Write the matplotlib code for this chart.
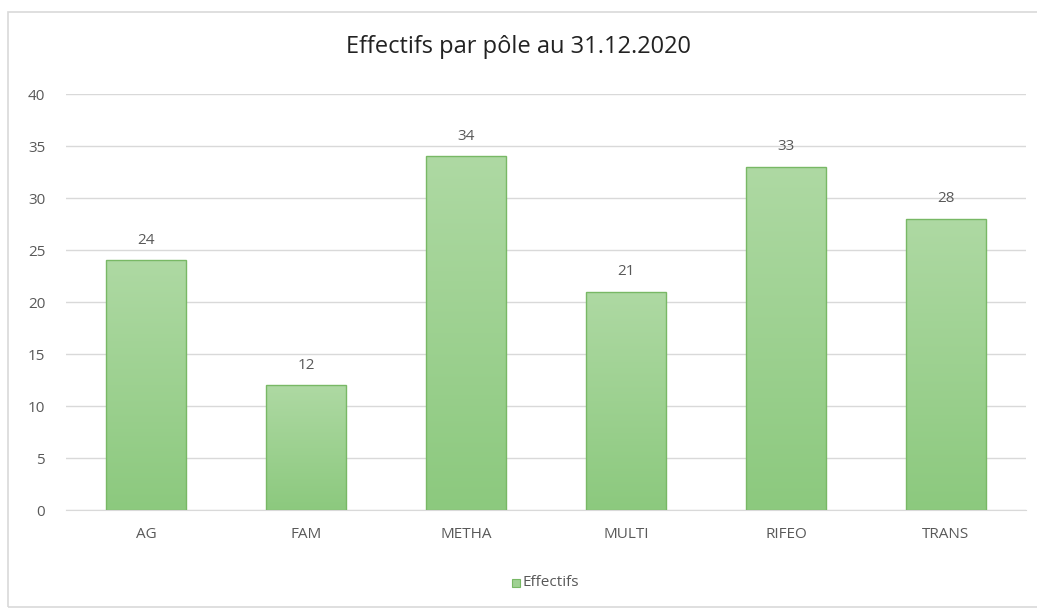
import numpy as np
import matplotlib
matplotlib.use("Agg")
import matplotlib.pyplot as plt
from matplotlib.patches import Rectangle
from matplotlib.colors import LinearSegmentedColormap

categories = ["AG", "FAM", "METHA", "MULTI", "RIFEO", "TRANS"]
effectifs = [24, 12, 34, 21, 33, 28]
title = "Effectifs par pôle au 31.12.2020"
series_name = "Effectifs"

plt.rcParams["font.family"] = ["Open Sans", "DejaVu Sans"]
text_col = "#595959"

fig = plt.figure(figsize=(10.37, 6.10), dpi=100)
fig.patches.append(Rectangle((8 / 1037, 3 / 610), 1.2, 595 / 610, transform=fig.transFigure,
                             fill=False, edgecolor="#d9d9d9", linewidth=1.2))

ax = fig.add_axes([66 / 1037, 1 - 510 / 610, 960 / 1037, 416 / 610])
x = np.arange(len(categories))
bars = ax.bar(x, effectifs, width=0.5, color="none", edgecolor="#78b865", linewidth=1.0, zorder=3)

# vertical gradient fill, lighter at the top
grad = LinearSegmentedColormap.from_list("g", ["#8cc97e", "#aed9a3"])
ramp = np.linspace(0, 1, 256).reshape(-1, 1)
for b in bars:
    x0, w, h = b.get_x(), b.get_width(), b.get_height()
    im = ax.imshow(ramp, cmap=grad, extent=[x0, x0 + w, 0, h], origin="lower",
                   aspect="auto", zorder=2)
    im.set_clip_path(b)
    ax.text(x0 + w / 2, h + 1.2, str(h), ha="center", va="bottom", fontsize=11, color=text_col)

ax.set_xlim(-0.5, len(categories) - 0.5)
ax.set_ylim(0, 40)
ax.set_yticks(range(0, 41, 5))
ax.set_xticks(x)
ax.set_xticklabels(categories)
ax.grid(axis="y", color="#d9d9d9", linewidth=1.0, zorder=0)
ax.set_axisbelow(True)
for s in ["top", "right", "left"]:
    ax.spines[s].set_visible(False)
ax.spines["bottom"].set_color("#d9d9d9")
ax.tick_params(axis="both", length=0, colors=text_col, labelsize=11)
ax.tick_params(axis="y", pad=15)
ax.tick_params(axis="x", pad=12)

fig.text(0.5, 1 - 47 / 610, title, ha="center", va="center", fontsize=17, color="#222222")

# legend
lx, ly = 512 / 1037, 1 - 583 / 610
fig.patches.append(Rectangle((lx, ly - 4 / 610), 8 / 1037, 8 / 610, transform=fig.transFigure,
                             facecolor="#9fd192", edgecolor="#78b865", linewidth=0.8))
fig.text(lx + 10 / 1037, ly, series_name, ha="left", va="center", fontsize=11, color=text_col)

fig.savefig("out.png", dpi=100)
